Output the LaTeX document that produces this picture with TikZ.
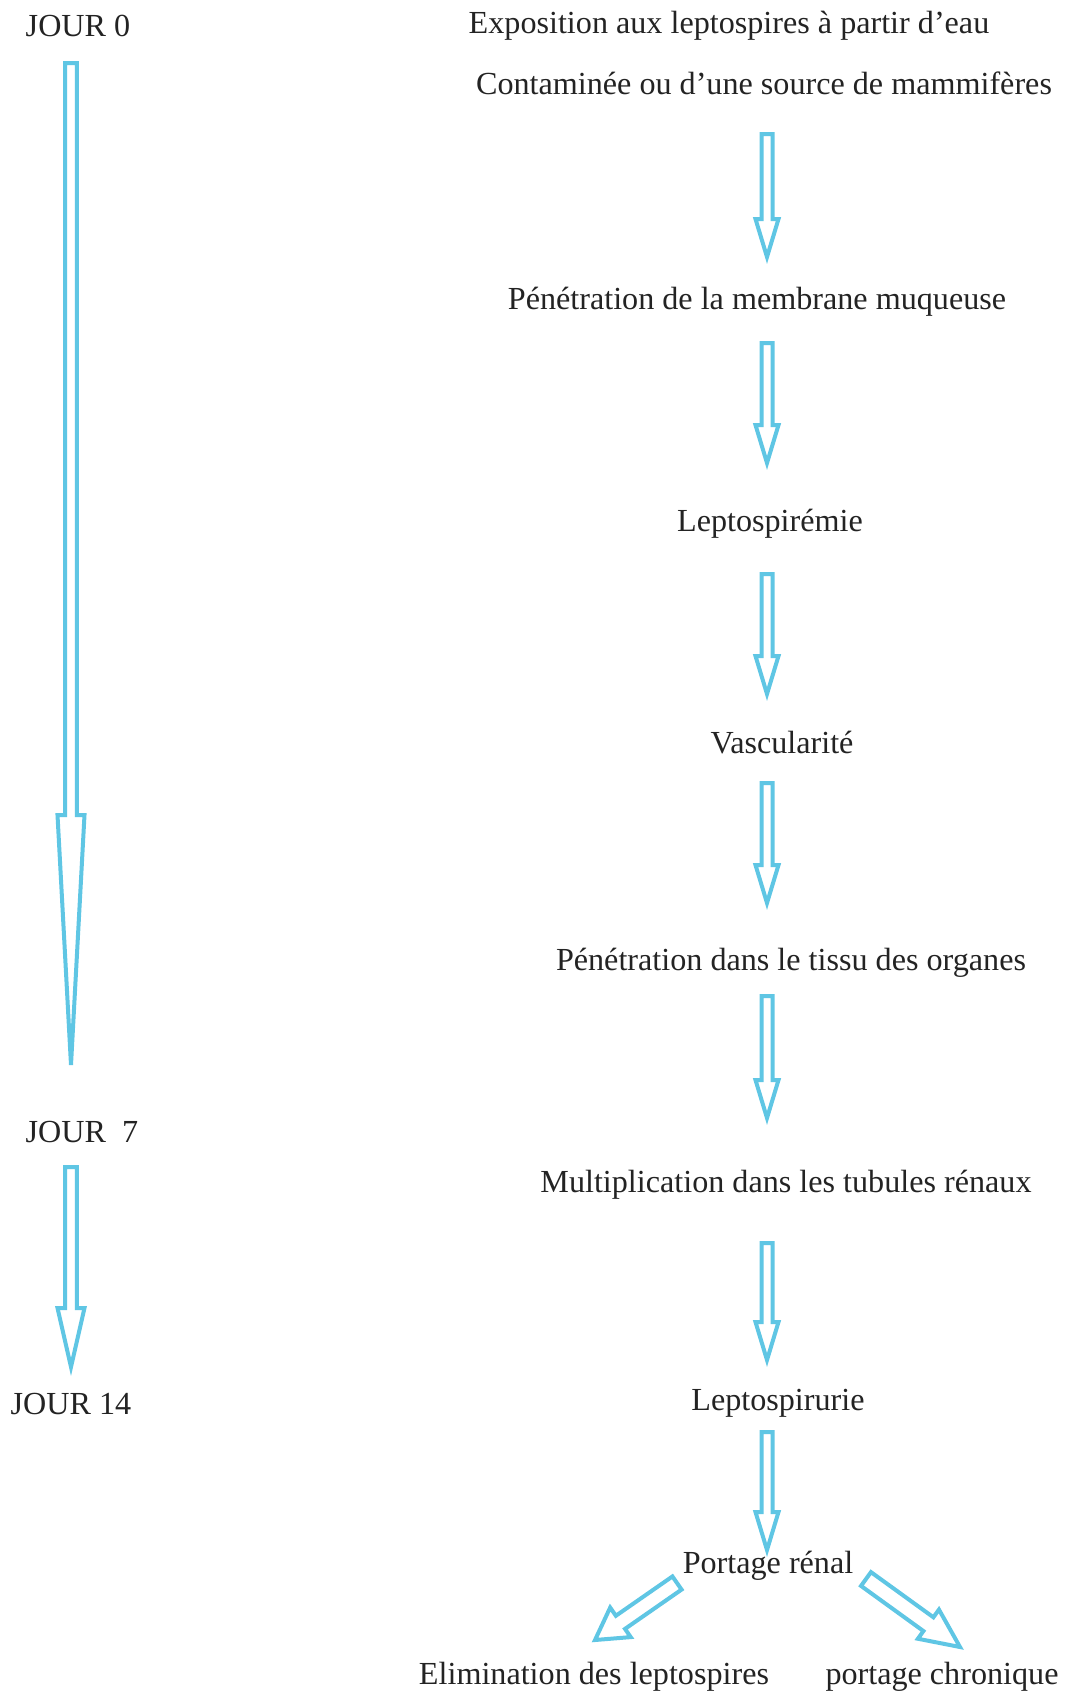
\documentclass[tikz,border=0pt]{standalone}
\usepackage{fontspec}
\setmainfont{Liberation Serif}
\usetikzlibrary{calc}

\definecolor{arrowblue}{RGB}{95,198,228}
\definecolor{txtgray}{RGB}{35,35,35}

\tikzset{
  lbl/.style={text=txtgray,font=\fontsize{18.3}{22}\selectfont,inner sep=0pt},
  arrowline/.style={draw=arrowblue,line width=0.08cm,line join=miter,fill=white}
}

% hollow block arrow: start, end, shaft half width, head half width, head length
\newcommand{\hollowarrow}[5]{%
  \coordinate (hb) at ($(#2)!#5!(#1)$);
  \draw[arrowline] ($(#1)!#3!90:(#2)$) -- ($(hb)!#3!90:(#2)$) -- ($(hb)!#4!90:(#2)$)
    -- (#2) -- ($(hb)!#4!-90:(#2)$) -- ($(hb)!#3!-90:(#2)$) -- ($(#1)!#3!-90:(#2)$) -- cycle;
}

\begin{document}
\begin{tikzpicture}[x=0.02cm,y=-0.02cm]
\useasboundingbox (0,0) rectangle (1066,1694);

% time line
\node[lbl] (j0) at (78,26) {JOUR 0};
\node[lbl] (j7) at (82,1132) {JOUR\ \ 7};
\node[lbl] (j14) at (71,1404) {JOUR 14};
\coordinate (t0s) at (71,63);
\coordinate (t0e) at (71,1065);
\coordinate (t7s) at (71,1167);
\coordinate (t7e) at (71,1367);
\hollowarrow{t0s}{t0e}{0.12cm}{0.27cm}{5cm}
\hollowarrow{t7s}{t7e}{0.12cm}{0.27cm}{1.18cm}

% stages
\node[lbl] (expo) at (729,26) {Exposition aux leptospires à partir d’eau};
\node[lbl] (cont) at (764,83) {Contaminée ou d’une source de mammifères};
\node[lbl] (memb) at (757,302) {Pénétration de la membrane muqueuse};
\node[lbl] (lepto) at (770,524) {Leptospirémie};
\node[lbl] (vasc) at (782,743) {Vascularité};
\node[lbl] (tissu) at (791,963) {Pénétration dans le tissu des organes};
\node[lbl] (multi) at (786,1185) {Multiplication dans les tubules rénaux};
\node[lbl] (urie) at (778,1403) {Leptospirurie};
\node[lbl] (portage) at (768,1566) {Portage rénal};
\node[lbl] (elim) at (594,1677) {Elimination des leptospires};
\node[lbl] (chron) at (942,1677) {portage chronique};

\foreach \n/\ys/\ye in {1/134/257,2/343/463,3/574/694,4/783/903,5/996/1118,6/1243/1360,7/1432/1550}{
  \coordinate (v\n s) at (767,\ys);
  \coordinate (v\n e) at (767,\ye);
  \hollowarrow{v\n s}{v\n e}{0.11cm}{0.23cm}{0.76cm}
}

% split
\coordinate (ls) at (677,1583);
\coordinate (le) at (595,1640);
\coordinate (rs) at (866,1579);
\coordinate (re) at (960,1647);
\hollowarrow{ls}{le}{0.16cm}{0.36cm}{0.62cm}
\hollowarrow{rs}{re}{0.17cm}{0.36cm}{0.78cm}
\end{tikzpicture}
\end{document}
